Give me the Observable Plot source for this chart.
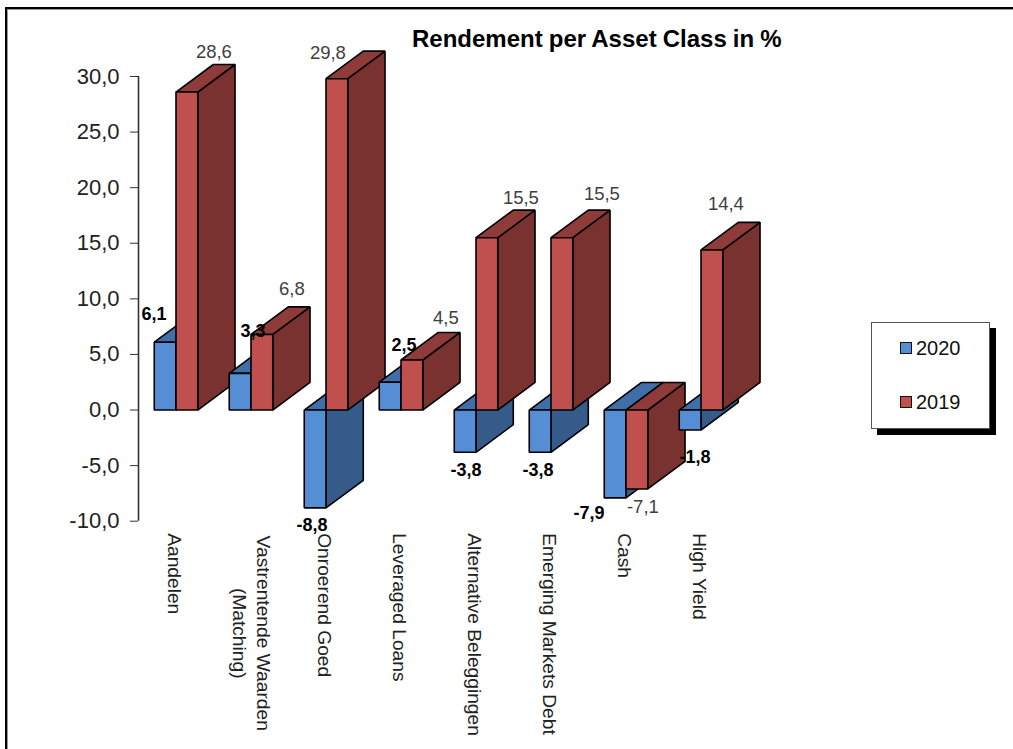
<!DOCTYPE html>
<html lang="nl">
<head>
<meta charset="utf-8">
<title>Rendement per Asset Class in %</title>
<script src="https://cdn.jsdelivr.net/npm/d3@7"></script>
<script src="https://cdn.jsdelivr.net/npm/@observablehq/plot@0.6"></script>
<style>
  html, body { margin: 0; padding: 0; background: #fff; overflow: hidden; }
  body { width: 1013px; height: 749px; position: relative; font-family: "Liberation Sans", Arial, sans-serif; }
  #frame { position: absolute; left: 5px; top: 7px; width: 1100px; height: 900px; border-left: 2.5px solid #000; border-top: 2.5px solid #000; box-shadow: inset 1px 1px 0 #999; }
  #chart { position: absolute; left: -0.5px; top: -0.5px; }
  #chart svg { background: transparent; display: block; }
  #title { position: absolute; left: 412px; top: 26px; font-size: 24px; font-weight: bold; color: #000; white-space: nowrap; line-height: 26px; word-spacing: -0.6px; }
  #legend { position: absolute; left: 871px; top: 322px; width: 117px; height: 105px; background: #fff; border: 1px solid #555; box-shadow: 6px 6px 0 #000; }
  .entry { position: absolute; left: 28px; display: flex; align-items: center; font-size: 20px; color: #111; line-height: 24px; }
  .swatch { width: 10px; height: 10px; border: 1.5px solid #111; margin-right: 4px; }
</style>
</head>
<body>
<div id="frame"></div>
<div id="chart"></div>
<div id="title">Rendement per Asset Class in %</div>
<div id="legend"></div>
<script>
// Returns per asset class, in percent
const categories = [
  "Aandelen",
  "Vastrentende Waarden\n(Matching)",
  "Onroerend Goed",
  "Leveraged Loans",
  "Alternative Beleggingen",
  "Emerging Markets Debt",
  "Cash",
  "High Yield"
];
const values2020 = [6.1, 3.3, -8.8, 2.5, -3.8, -3.8, -7.9, -1.8];
const values2019 = [28.6, 6.8, 29.8, 4.5, 15.5, 15.5, -7.1, 14.4];
const yTicks = [-10, -5, 0, 5, 10, 15, 20, 25, 30];

// Face shades for each series: front, top, side
const shades2020 = {front: "#558ed5", top: "#3f6ea8", side: "#355b8b"};
const shades2019 = {front: "#c0504d", top: "#8f3b39", side: "#7a3230"};

// Pixel nudges that keep each value label clear of its bar
const nudge2020 = [[-11, -28], [13, -42], [-3, 17], [14, -37], [1, 18], [-2, 18], [-26, 15], [5, 27]];
const nudge2019 = [[27, -40], [30, -45], [-9, -26], [34, -42], [34, -40], [40, -44], [6, 18], [14, -46]];

// Bar proportions in data units: width along x, oblique depth along x and y
const barWidth = 0.29;
const depthX = 0.497;
const depthY = 2.48;

const comma = (v) => d3.format(".1f")(v).replace(".", ",").replace("−", "-");

// Each bar becomes three closed polygons, drawn side, top, front
function barFaces(i, value, shades, left) {
  const right = left + barWidth;
  const lo = Math.min(0, value);
  const hi = Math.max(0, value);
  const face = (name, fill, corners) =>
    corners.map(([x, y]) => ({x, y, fill, id: `${i}-${left}-${name}`}));
  return [
    ...face("side", shades.side, [[right, lo], [right, hi], [right + depthX, hi + depthY], [right + depthX, lo + depthY]]),
    ...face("top", shades.top, [[left, hi], [right, hi], [right + depthX, hi + depthY], [left + depthX, hi + depthY]]),
    ...face("front", shades.front, [[left, lo], [right, lo], [right, hi], [left, hi]])
  ];
}

const faces = categories.flatMap((_, i) => [
  ...barFaces(i, values2020[i], shades2020, i + 0.5 - barWidth),
  ...barFaces(i, values2019[i], shades2019, i + 0.5)
]);

const valueLabels = (values, nudges, offset, style) =>
  values.map((v, i) =>
    Plot.text([v], {
      x: () => i + 0.5 + offset,
      y: (d) => d,
      text: comma,
      dx: nudges[i][0],
      dy: nudges[i][1],
      fontSize: 18.5,
      ...style
    })
  );

const singleLine = categories.map((c, i) => ({c, i})).filter((d) => !d.c.includes("\n"));
const wrapped = categories.map((c, i) => ({c, i})).filter((d) => d.c.includes("\n"));

const chart = Plot.plot({
  width: 1013,
  height: 749,
  marginLeft: 138,
  marginRight: 275,
  marginTop: 76,
  marginBottom: 228.3,
  style: {fontFamily: '"Liberation Sans", Arial, sans-serif', background: "transparent"},
  x: {domain: [0, categories.length], axis: null},
  y: {domain: [-10, 30], axis: null},
  marks: [
    Plot.ruleX([0], {y1: -10, y2: 30, stroke: "#333", strokeWidth: 1.6}),
    Plot.axisY({
      ticks: yTicks,
      tickFormat: comma,
      tickSize: 8,
      tickPadding: 11,
      fontSize: 22,
      label: null,
      stroke: "#333",
      color: "#222"
    }),
    Plot.line(faces, {
      x: "x",
      y: "y",
      z: "id",
      fill: "fill",
      stroke: "#000",
      strokeWidth: 1.6,
      strokeLinejoin: "miter",
      curve: "linear-closed"
    }),
    Plot.text(singleLine, {
      x: (d) => d.i + 0.5,
      y: () => -10,
      text: "c",
      rotate: 90,
      textAnchor: "start",
      dx: -1.5,
      dy: 12,
      fontSize: 19.2,
      fill: "#222"
    }),
    Plot.text(wrapped, {
      x: (d) => d.i + 0.5,
      y: () => -10,
      text: "c",
      rotate: 90,
      textAnchor: "middle",
      dx: 1.5,
      dy: 112,
      fontSize: 19.2,
      lineHeight: 1.25,
      fill: "#222"
    }),
    ...valueLabels(values2019, nudge2019, barWidth / 2, {fill: "#404040"}),
    ...valueLabels(values2020, nudge2020, -barWidth / 2, {fill: "#000", fontWeight: "bold", fontSize: 18})
  ]
});
document.getElementById("chart").append(chart);

// Legend box, coloured from the same series shades
const legend = document.getElementById("legend");
[["2020", shades2020.front, 13], ["2019", shades2019.front, 67]].forEach(([label, colour, top]) => {
  const row = document.createElement("div");
  row.className = "entry";
  row.style.top = `${top}px`;
  const swatch = document.createElement("span");
  swatch.className = "swatch";
  swatch.style.background = colour;
  row.append(swatch, label);
  legend.append(row);
});
</script>
</body>
</html>
